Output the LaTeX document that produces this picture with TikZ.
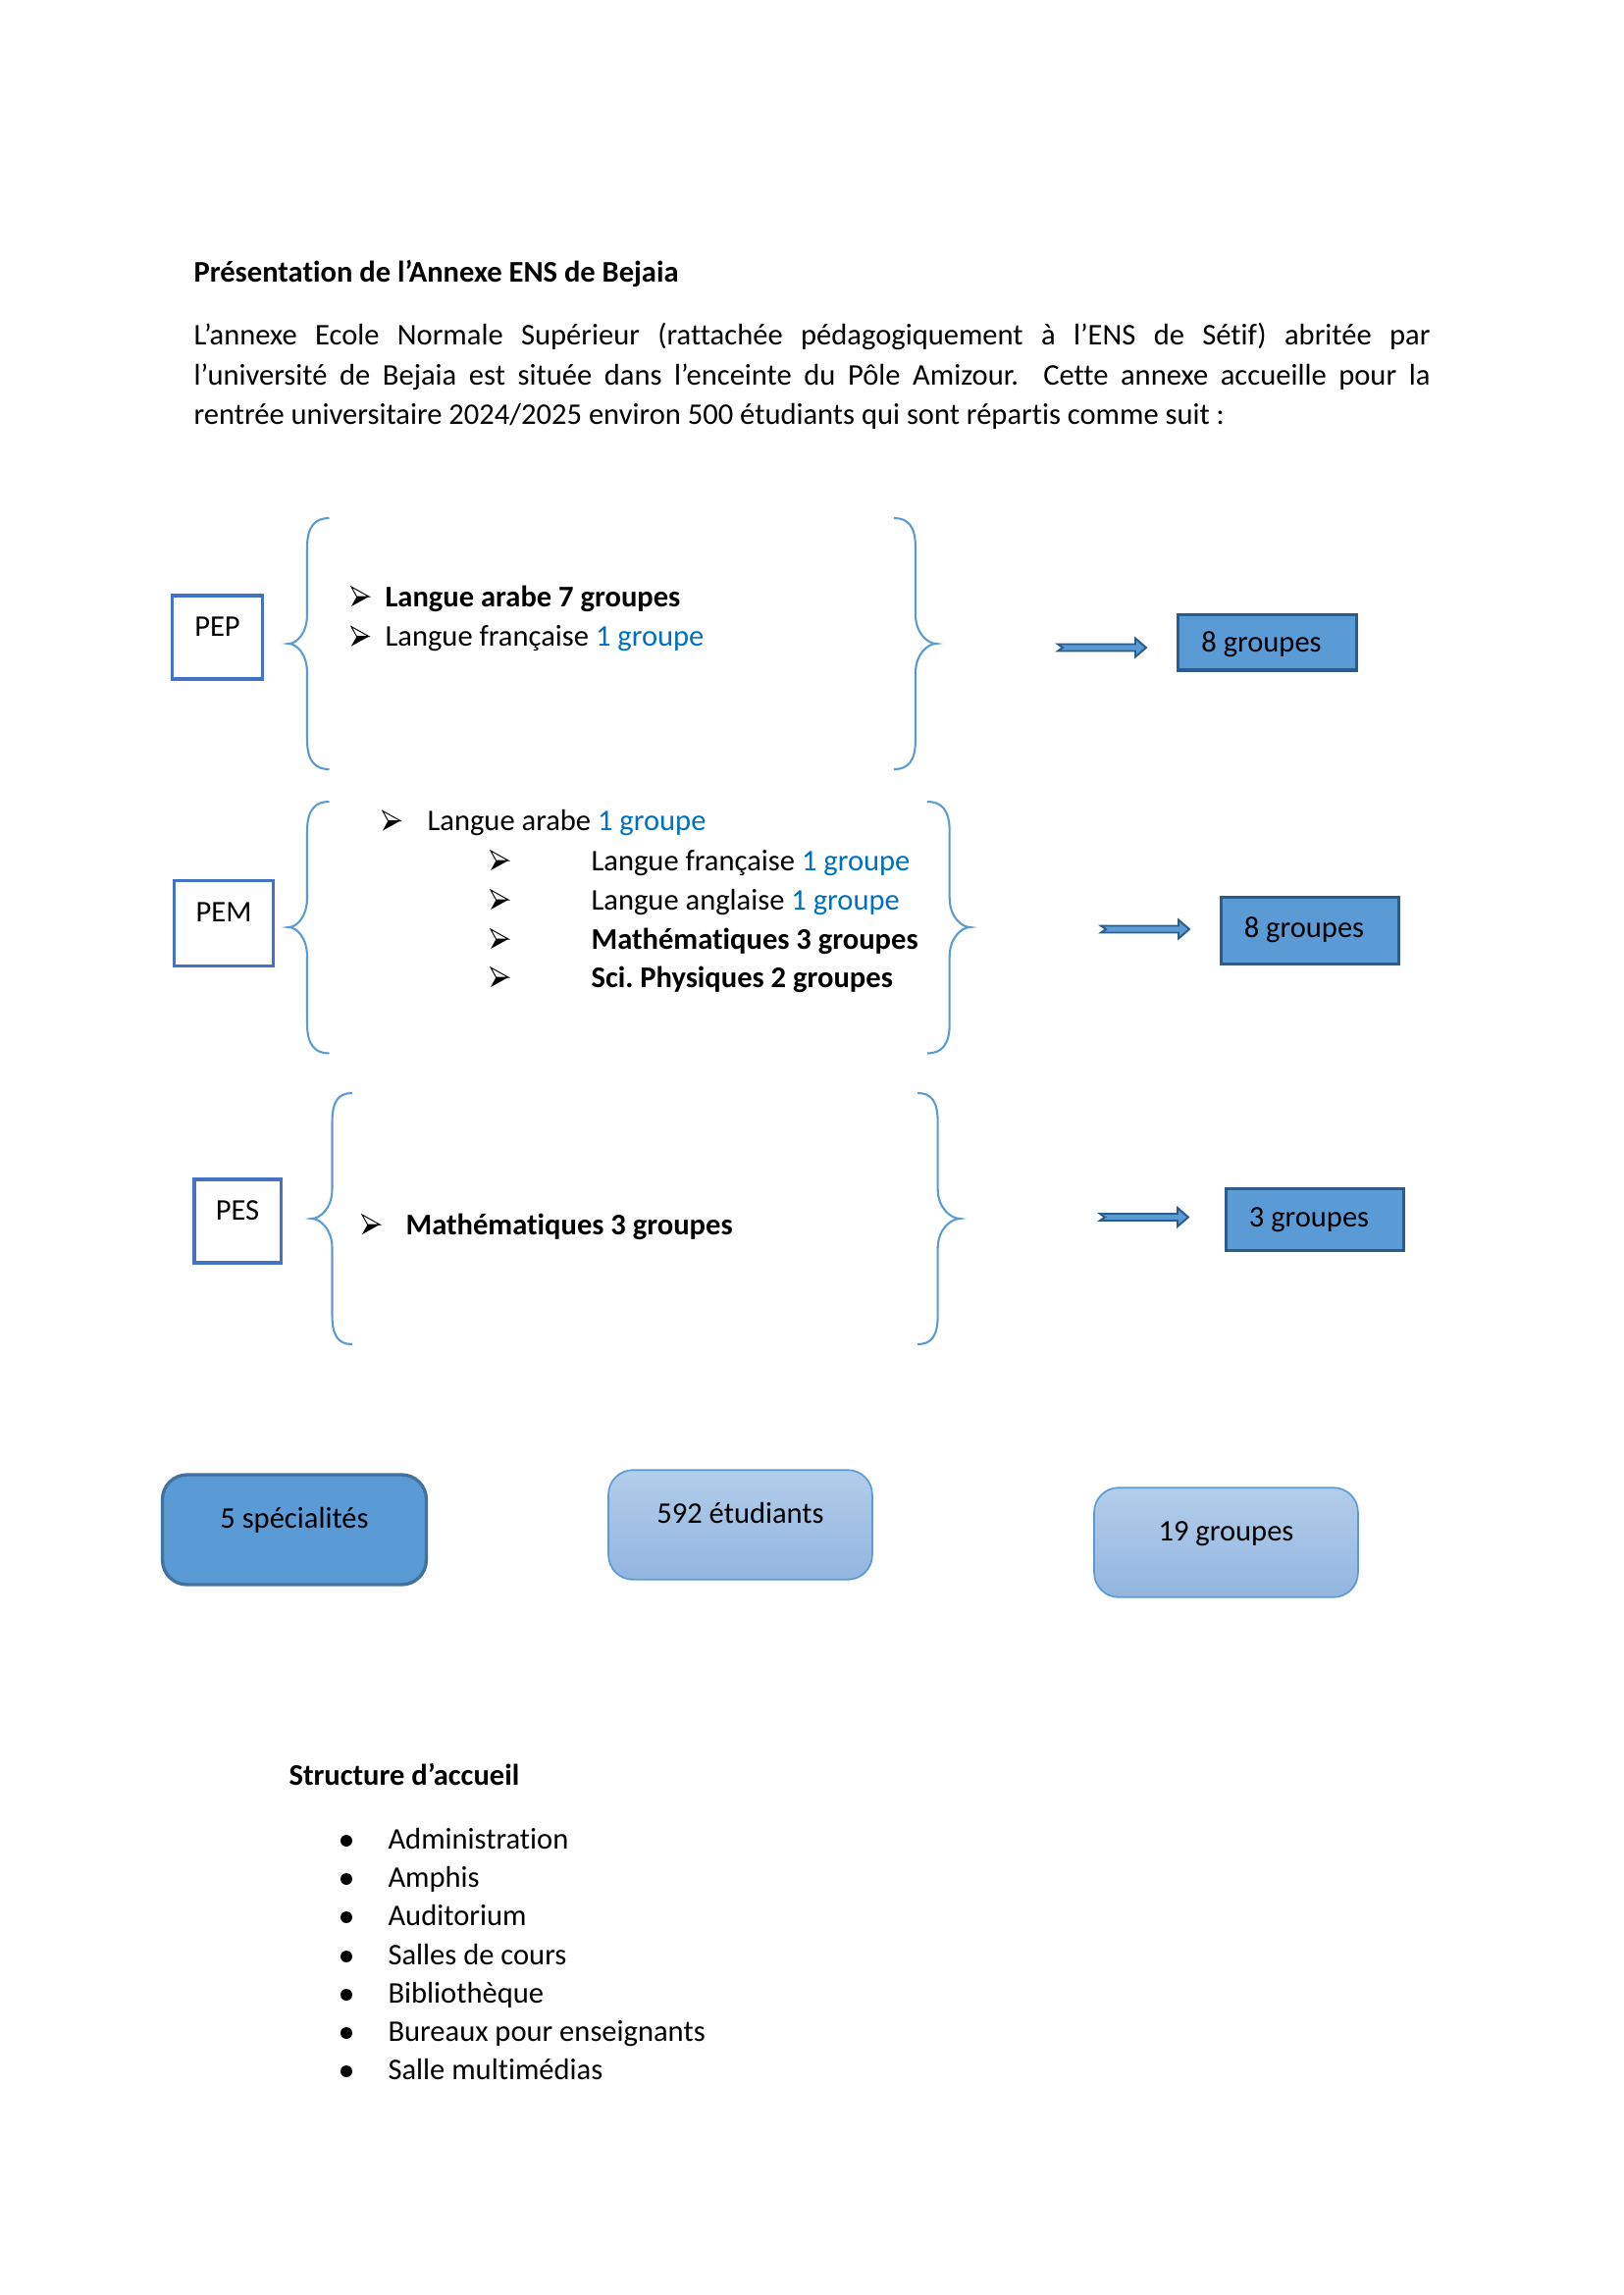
\documentclass[tikz,border=0pt]{standalone}
\usepackage{fontspec}
\setmainfont[Ligatures=NoCommon]{Carlito}
\definecolor{accblue}{HTML}{5B9BD5}
\definecolor{boxblue}{HTML}{4472C4}
\definecolor{arrdark}{HTML}{2E5C8A}
\definecolor{grptxt}{HTML}{0070C0}
\definecolor{lightA}{HTML}{B3CDEA}
\definecolor{lightB}{HTML}{92B5DF}
\definecolor{spborder}{HTML}{41719C}
\newcommand{\mybraceL}[6]{%
  \draw[bracestyle] (#1,#4) .. controls +(-14,0) and +(0,-22) .. ({#2},{#4+30})
    -- ({#2},{#5-30}) .. controls +(0,20) and +(8,0) .. (#3,#5)
    .. controls +(8,0) and +(0,-20) .. ({#2},{#5+30})
    -- ({#2},{#6-30}) .. controls +(0,22) and +(-14,0) .. (#1,#6);}
\newcommand{\mybraceR}[6]{%
  \draw[bracestyle] (#1,#4) .. controls +(14,0) and +(0,-22) .. ({#2},{#4+30})
    -- ({#2},{#5-30}) .. controls +(0,20) and +(-8,0) .. (#3,#5)
    .. controls +(-8,0) and +(0,-20) .. ({#2},{#5+30})
    -- ({#2},{#6-30}) .. controls +(0,22) and +(14,0) .. (#1,#6);}
\newcommand{\grp}[1]{{\color{grptxt}#1}}
\frenchspacing
\begin{document}
\begin{tikzpicture}[x=0.36pt,y=-0.36pt,
  txt/.style={anchor=base west, inner sep=0pt, font=\fontsize{11}{13}\selectfont},
  ctxt/.style={anchor=base, inner sep=0pt, font=\fontsize{11}{13}\selectfont},
  bracestyle/.style={draw=accblue, line width=0.75pt},
  catbox/.style={draw=boxblue, line width=1.1pt, fill=white, inner sep=0pt},
  grpbox/.style={draw=arrdark, line width=1.1pt, fill=accblue, inner sep=0pt, minimum width=65.3pt},
  sumdark/.style={draw=spborder, line width=1.2pt, fill=accblue, rounded corners=9pt, inner sep=0pt, minimum width=96.8pt, minimum height=40.3pt},
  sumlight/.style={draw=accblue, line width=0.6pt, top color=lightA, bottom color=lightB, rounded corners=9pt, inner sep=0pt, minimum width=96.8pt, minimum height=40.2pt},
  dotbul/.style={circle, fill=black, inner sep=0pt, minimum size=4.3pt},
  pics/blockarr/.style={code={
    \filldraw[fill=accblue, draw=arrdark, line width=0.7pt, line join=miter]
      (0,-3.5) -- (79,-3.5) -- (79,-9.5) -- (90,0) -- (79,9.5) -- (79,3.5) -- (0,3.5) -- (5,0) -- cycle;}},
  pics/arrbul/.style={code={
    \filldraw[fill=white, draw=black, line width=0.35pt, line join=miter] (0,-10) -- (18,0) -- (5.5,0) -- cycle;
    \fill[black] (5.5,0) -- (18,0) -- (0,10) -- cycle;}}
]
\fill[white] (0,0) rectangle (1654,2339);
\useasboundingbox (0,0) rectangle (1654,2339);

% Title and paragraph
\node[txt, font=\fontsize{11}{13}\selectfont\bfseries] (title) at (197,287) {Présentation de l’Annexe ENS de Bejaia};
\node[txt] (par1) at (197,351) {\makebox[453.6pt][s]{L’annexe Ecole Normale Supérieur (rattachée pédagogiquement à l’ENS de Sétif) abritée par}};
\node[txt] (par2) at (197,392) {\makebox[453.6pt][s]{l’université de Bejaia est située dans l’enceinte du Pôle Amizour.\ \ Cette annexe accueille pour la}};
\node[txt] (par3) at (197,432) {rentrée universitaire 2024/2025 environ 500 étudiants qui sont répartis comme suit :};

% PEP
\node[catbox, minimum width=32.8pt, minimum height=30.6pt] (pep) at (221.5,649.5) {};
\node[ctxt] (peptxt) at (221.5,648) {PEP};
\mybraceL{335.5}{313}{294}{528}{656}{784}
\mybraceR{911}{933}{954}{528}{656}{784}
\pic at (358,608) {arrbul};
\node[txt, font=\fontsize{11}{13}\selectfont\bfseries] (pep1) at (392,618) {Langue arabe 7 groupes};
\pic at (358,648.6) {arrbul};
\node[txt] (pep2) at (392,658.6) {Langue française \grp{1 groupe}};
\pic at (1078,660) {blockarr};
\node[grpbox, minimum height=20.5pt] (g1) at (1291.5,654.5) {};
\node[ctxt] (g1txt) at (1285.5,664) {8 groupes};

% PEM
\node[catbox, minimum width=36.5pt, minimum height=31.1pt] (pem) at (228,941) {};
\node[ctxt] (pemtxt) at (228,939) {PEM};
\mybraceL{335.5}{313}{294}{817}{945}{1073.5}
\mybraceR{945}{967.7}{988.5}{817}{945}{1073.5}
\pic at (390,836.5) {arrbul};
\node[txt] (pem1) at (435,846.5) {Langue arabe \grp{1 groupe}};
\pic at (500,877) {arrbul};
\node[txt] (pem2) at (602,887) {Langue française \grp{1 groupe}};
\pic at (500,917) {arrbul};
\node[txt] (pem3) at (602,927) {Langue anglaise \grp{1 groupe}};
\pic at (500,957) {arrbul};
\node[txt, font=\fontsize{11}{13}\selectfont\bfseries] (pem4) at (602,967) {Mathématiques 3 groupes};
\pic at (500,996) {arrbul};
\node[txt, font=\fontsize{11}{13}\selectfont\bfseries] (pem5) at (602,1006) {Sci. Physiques 2 groupes};
\pic at (1122,947) {blockarr};
\node[grpbox, minimum height=24.8pt] (g2) at (1335,948.5) {};
\node[ctxt] (g2txt) at (1329,955) {8 groupes};

% PES
\node[catbox, minimum width=31.7pt, minimum height=30.6pt] (pes) at (242,1244.5) {};
\node[ctxt] (pestxt) at (242,1243) {PES};
\mybraceL{359}{338.5}{317.6}{1114}{1242}{1370}
\mybraceR{935}{955.7}{978}{1114}{1242}{1370}
\pic at (369,1248) {arrbul};
\node[txt, font=\fontsize{11}{13}\selectfont\bfseries] (pes1) at (413,1258) {Mathématiques 3 groupes};
\pic at (1121,1240.5) {blockarr};
\node[grpbox, minimum height=23pt] (g3) at (1340,1243) {};
\node[ctxt] (g3txt) at (1334,1250) {3 groupes};

% Summary boxes
\node[sumdark] (b1) at (300,1559) {};
\node[ctxt] (b1txt) at (300,1557) {5 spécialités};
\node[sumlight] (b2) at (754.5,1554) {};
\node[ctxt] (b2txt) at (754.5,1552) {592 étudiants};
\node[sumlight] (b3) at (1249.5,1572) {};
\node[ctxt] (b3txt) at (1249.5,1570) {19 groupes};

% Structure d'accueil
\node[txt, font=\fontsize{11}{13}\selectfont\bfseries] (struct) at (294,1819.5) {Structure d’accueil};
\node[dotbul] (d1) at (353,1876) {};
\node[txt] (s1) at (395,1884) {Administration};
\node[dotbul] (d2) at (353,1915) {};
\node[txt] (s2) at (395,1923) {Amphis};
\node[dotbul] (d3) at (353,1954) {};
\node[txt] (s3) at (395,1962) {Auditorium};
\node[dotbul] (d4) at (353,1994) {};
\node[txt] (s4) at (395,2002) {Salles de cours};
\node[dotbul] (d5) at (353,2033) {};
\node[txt] (s5) at (395,2041) {Bibliothèque};
\node[dotbul] (d6) at (353,2072) {};
\node[txt] (s6) at (395,2080) {Bureaux pour enseignants};
\node[dotbul] (d7) at (353,2111) {};
\node[txt] (s7) at (395,2119) {Salle multimédias};
\end{tikzpicture}
\end{document}
